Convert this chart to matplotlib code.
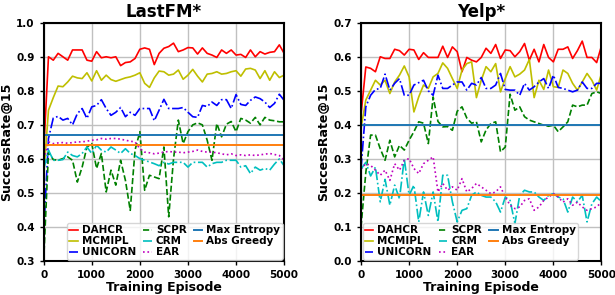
import numpy as np
import matplotlib
matplotlib.use("Agg")
import matplotlib.pyplot as plt

# episodes, one point every 100
episodes = np.arange(0, 5001, 100)

# ---- LastFM* ----
lastfm_dahcr = [0.62, 0.90, 0.89, 0.91, 0.90, 0.89, 0.92, 0.92, 0.92, 0.89,
                0.887, 0.915, 0.897, 0.90, 0.897, 0.90, 0.874, 0.883, 0.885, 0.895,
                0.922, 0.926, 0.922, 0.877, 0.91, 0.925, 0.93, 0.94, 0.915, 0.92,
                0.927, 0.926, 0.908, 0.926, 0.91, 0.905, 0.898, 0.92, 0.91, 0.92,
                0.905, 0.907, 0.898, 0.92, 0.90, 0.915, 0.908, 0.913, 0.915, 0.935,
                0.91]
lastfm_mcmipl = [0.55, 0.743, 0.78, 0.814, 0.812, 0.826, 0.843, 0.838, 0.836, 0.853,
                 0.829, 0.859, 0.831, 0.846, 0.833, 0.828, 0.833, 0.838, 0.841, 0.846,
                 0.853, 0.822, 0.81, 0.838, 0.858, 0.856, 0.846, 0.849, 0.861, 0.834,
                 0.846, 0.863, 0.843, 0.826, 0.849, 0.851, 0.856, 0.849, 0.851, 0.856,
                 0.859, 0.843, 0.864, 0.866, 0.861, 0.836, 0.859, 0.831, 0.856, 0.839,
                 0.846]
lastfm_unicorn = [0.38, 0.66, 0.72, 0.725, 0.714, 0.719, 0.70, 0.733, 0.748, 0.719,
                  0.753, 0.757, 0.774, 0.748, 0.728, 0.737, 0.751, 0.724, 0.737, 0.728,
                  0.748, 0.748, 0.748, 0.712, 0.743, 0.775, 0.748, 0.748, 0.748, 0.751,
                  0.737, 0.724, 0.722, 0.757, 0.754, 0.767, 0.757, 0.774, 0.774, 0.748,
                  0.789, 0.76, 0.757, 0.772, 0.782, 0.777, 0.767, 0.751, 0.763, 0.79,
                  0.772]
lastfm_scpr = [0.30, 0.62, 0.598, 0.596, 0.601, 0.606, 0.596, 0.532, 0.576, 0.635,
               0.645, 0.572, 0.616, 0.503, 0.567, 0.523, 0.596, 0.537, 0.449, 0.626,
               0.68, 0.508, 0.552, 0.547, 0.542, 0.635, 0.43, 0.60, 0.714, 0.645,
               0.68, 0.70, 0.706, 0.70, 0.655, 0.596, 0.704, 0.665, 0.702, 0.71,
               0.68, 0.719, 0.714, 0.705, 0.722, 0.70, 0.722, 0.714, 0.712, 0.709,
               0.709]
lastfm_crm = [0.57, 0.626, 0.596, 0.596, 0.598, 0.62, 0.61, 0.606, 0.616, 0.635,
              0.616, 0.64, 0.626, 0.62, 0.635, 0.626, 0.616, 0.63, 0.616, 0.61,
              0.601, 0.596, 0.591, 0.586, 0.58, 0.59, 0.585, 0.59, 0.59, 0.59,
              0.576, 0.59, 0.59, 0.59, 0.576, 0.586, 0.59, 0.59, 0.596, 0.596,
              0.596, 0.576, 0.58, 0.557, 0.576, 0.567, 0.572, 0.567, 0.585, 0.60,
              0.58]
lastfm_ear = [0.60, 0.65, 0.645, 0.647, 0.648, 0.646, 0.648, 0.65, 0.65, 0.652,
              0.655, 0.656, 0.66, 0.658, 0.66, 0.66, 0.658, 0.655, 0.652, 0.65,
              0.63, 0.62, 0.618, 0.615, 0.617, 0.62, 0.622, 0.62, 0.62, 0.618,
              0.62, 0.622, 0.626, 0.622, 0.62, 0.62, 0.618, 0.615, 0.612, 0.615,
              0.61, 0.612, 0.61, 0.612, 0.61, 0.612, 0.614, 0.616, 0.613, 0.61,
              0.597]
lastfm_maxent = 0.67
lastfm_absgreedy = 0.64

# ---- Yelp* ----
yelp_dahcr = [0.43, 0.57, 0.566, 0.556, 0.6, 0.595, 0.595, 0.622, 0.618, 0.605,
              0.622, 0.62, 0.592, 0.612, 0.598, 0.598, 0.598, 0.631, 0.598, 0.629,
              0.615, 0.556, 0.598, 0.59, 0.585, 0.598, 0.625, 0.61, 0.636, 0.595,
              0.62, 0.618, 0.6, 0.615, 0.639, 0.59, 0.622, 0.585, 0.636, 0.598,
              0.585, 0.622, 0.622, 0.629, 0.595, 0.618, 0.646, 0.598, 0.598, 0.583,
              0.632]
yelp_mcmipl = [0.39, 0.473, 0.502, 0.531, 0.517, 0.531, 0.492, 0.526, 0.546, 0.573,
               0.541, 0.438, 0.482, 0.517, 0.507, 0.541, 0.551, 0.582, 0.566, 0.536,
               0.507, 0.561, 0.58, 0.585, 0.48, 0.531, 0.571, 0.556, 0.58, 0.497,
               0.536, 0.571, 0.541, 0.549, 0.561, 0.592, 0.48, 0.531, 0.504, 0.561,
               0.512, 0.51, 0.561, 0.551, 0.522, 0.502, 0.526, 0.551, 0.531, 0.502,
               0.551]
yelp_unicorn = [0.27, 0.453, 0.487, 0.504, 0.507, 0.549, 0.502, 0.522, 0.536, 0.487,
                0.487, 0.517, 0.524, 0.531, 0.5, 0.487, 0.546, 0.507, 0.507, 0.517,
                0.526, 0.526, 0.502, 0.522, 0.517, 0.539, 0.507, 0.507, 0.517, 0.551,
                0.504, 0.502, 0.502, 0.487, 0.522, 0.502, 0.512, 0.526, 0.536, 0.507,
                0.546, 0.51, 0.507, 0.502, 0.497, 0.502, 0.526, 0.507, 0.507, 0.522,
                0.522]
yelp_scpr = [0.10, 0.26, 0.37, 0.37, 0.33, 0.296, 0.355, 0.306, 0.34, 0.326,
             0.355, 0.38, 0.409, 0.405, 0.345, 0.482, 0.41, 0.394, 0.395, 0.384,
             0.44, 0.453, 0.42, 0.405, 0.409, 0.35, 0.385, 0.404, 0.409, 0.321,
             0.335, 0.49, 0.443, 0.453, 0.424, 0.414, 0.409, 0.404, 0.399, 0.396,
             0.399, 0.38, 0.394, 0.409, 0.458, 0.453, 0.458, 0.458, 0.492, 0.497,
             0.492]
yelp_crm = [0.27, 0.29, 0.25, 0.276, 0.174, 0.24, 0.164, 0.223, 0.183, 0.301,
            0.193, 0.223, 0.115, 0.203, 0.134, 0.203, 0.115, 0.252, 0.252, 0.174,
            0.115, 0.149, 0.154, 0.193, 0.203, 0.193, 0.188, 0.188, 0.174, 0.144,
            0.188, 0.178, 0.11, 0.193, 0.208, 0.203, 0.203, 0.188, 0.178, 0.193,
            0.198, 0.188, 0.183, 0.144, 0.188, 0.174, 0.193, 0.115, 0.168, 0.188,
            0.174]
yelp_ear = [0.27, 0.286, 0.281, 0.267, 0.252, 0.267, 0.237, 0.286, 0.267, 0.296,
            0.301, 0.272, 0.257, 0.286, 0.296, 0.306, 0.203, 0.228, 0.208, 0.218,
            0.208, 0.242, 0.203, 0.213, 0.228, 0.218, 0.208, 0.198, 0.203, 0.218,
            0.188, 0.164, 0.154, 0.159, 0.178, 0.183, 0.149, 0.159, 0.178, 0.188,
            0.198, 0.188, 0.173, 0.183, 0.164, 0.173, 0.159, 0.149, 0.154, 0.159,
            0.173]
yelp_maxent = 0.40
yelp_absgreedy = 0.195


def drawPanel(ax, title, series, maxent, absgreedy, ylim, yticks, legend_loc):
    """
    draw one panel: six curves + two constant baselines
    """
    styles = [("DAHCR", "red", "-"),
              ("MCMIPL", "#bfbf00", "-"),
              ("UNICORN", "blue", "-."),
              ("SCPR", "green", "--"),
              ("CRM", "#00bfbf", "-."),
              ("EAR", "#bf00bf", ":")]
    for (name, color, ls), vals in zip(styles, series):
        ax.plot(episodes, vals, color=color, linestyle=ls, linewidth=1.2, label=name)
    ax.axhline(maxent, color="#1f77b4", linewidth=1.4, label="Max Entropy")
    ax.axhline(absgreedy, color="#ff7f0e", linewidth=1.4, label="Abs Greedy")

    ax.set_xlim(0, 5000)
    ax.set_ylim(*ylim)
    ax.set_xticks(range(0, 5001, 1000))
    ax.set_yticks(yticks)
    ax.set_yticklabels(["%.1f" % t for t in yticks])
    ax.grid(True, color="#c0c0c0", linewidth=1.0)
    for sp in ax.spines.values():
        sp.set_linewidth(1.5)
    ax.tick_params(labelsize=7.5, width=1, length=3)
    for lab in ax.get_xticklabels() + ax.get_yticklabels():
        lab.set_fontweight("bold")
    ax.set_title(title, fontsize=12, fontweight="bold", pad=4)
    ax.set_xlabel("Training Episode", fontsize=9, fontweight="bold", labelpad=1)
    ax.set_ylabel("SuccessRate@15", fontsize=9, fontweight="bold", labelpad=2)
    ax.legend(loc=legend_loc, ncol=3, prop={"weight": "bold", "size": 7.5},
              handlelength=0.8, handletextpad=0.4, columnspacing=0.7,
              borderpad=0.2, labelspacing=0.1, borderaxespad=0.15)


if __name__ == "__main__":
    fig = plt.figure(figsize=(6.15, 2.95), dpi=100)
    ax1 = fig.add_axes([0.071, 0.115, 0.391, 0.808])
    ax2 = fig.add_axes([0.587, 0.115, 0.391, 0.808])

    drawPanel(ax1, "LastFM*",
              [lastfm_dahcr, lastfm_mcmipl, lastfm_unicorn, lastfm_scpr, lastfm_crm, lastfm_ear],
              lastfm_maxent, lastfm_absgreedy, (0.3, 1.0),
              [0.3, 0.4, 0.5, 0.6, 0.7, 0.8, 0.9, 1.0], "lower right")
    drawPanel(ax2, "Yelp*",
              [yelp_dahcr, yelp_mcmipl, yelp_unicorn, yelp_scpr, yelp_crm, yelp_ear],
              yelp_maxent, yelp_absgreedy, (0.0, 0.7),
              [0.0, 0.1, 0.2, 0.3, 0.4, 0.5, 0.6, 0.7], "lower left")

    fig.savefig("out.png", dpi=100)
